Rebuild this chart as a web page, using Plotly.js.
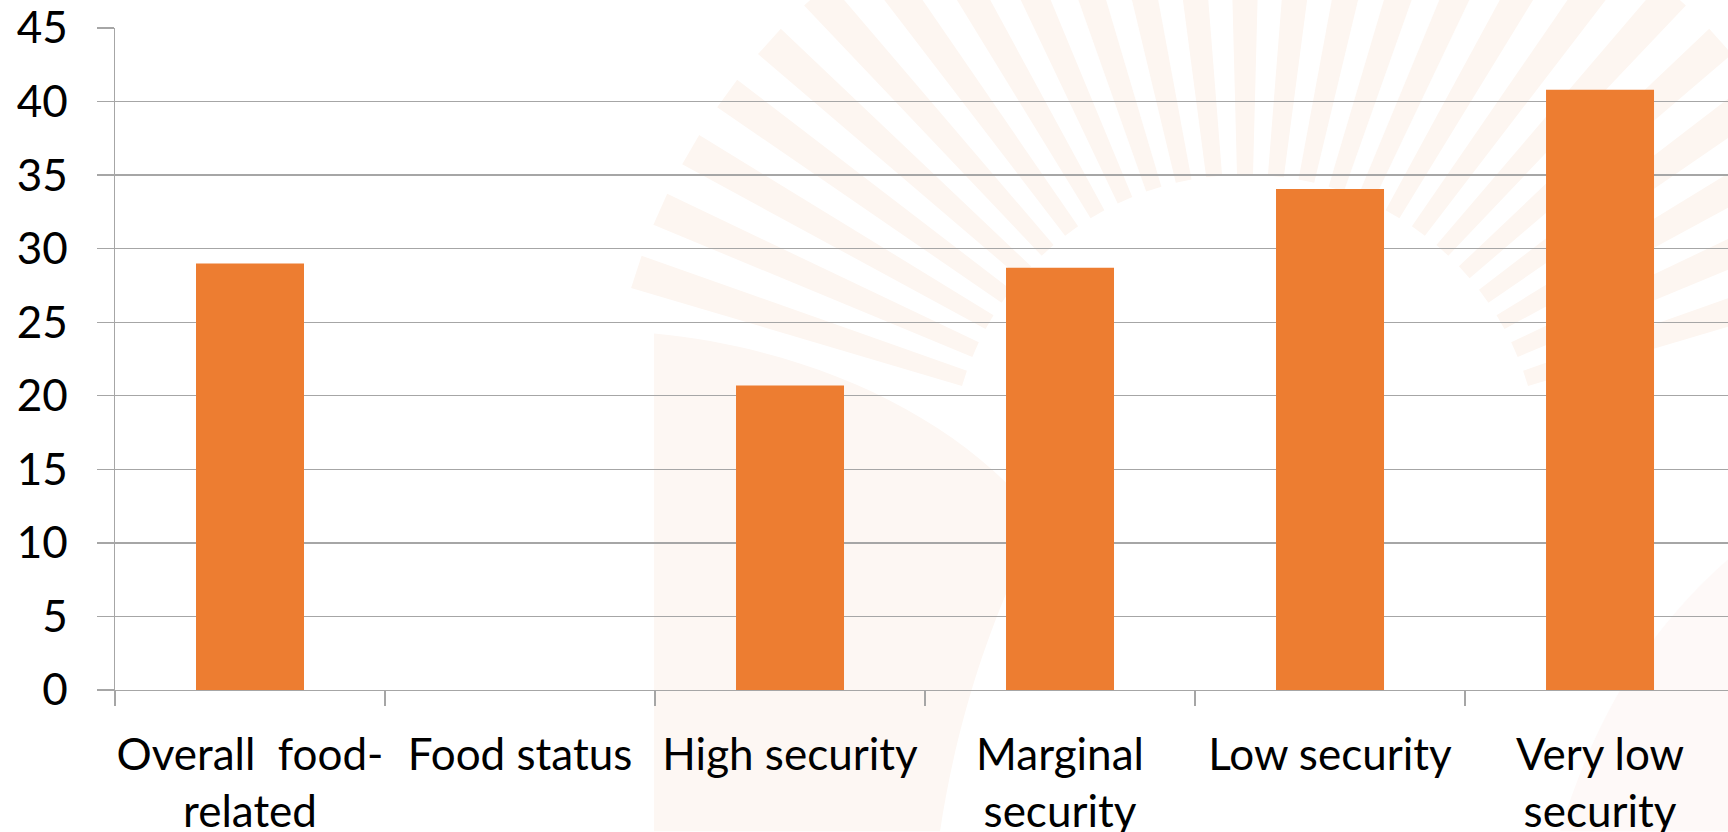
<!DOCTYPE html>
<html>
<head>
<meta charset="utf-8">
<script src="https://cdn.plot.ly/plotly-3.0.1.min.js"></script>
<style>
html,body{margin:0;padding:0;background:#fff;}
#chart{width:1728px;height:832px;}
</style>
</head>
<body>
<div id="chart"></div>
<script>
const categories = [
  "Overall  food-<br>related",
  "Food status",
  "High security",
  "Marginal<br>security",
  "Low security",
  "Very low<br>security"
];
const values = [29.0, null, 20.7, 28.7, 34.05, 40.8];
const yTicks = [0, 5, 10, 15, 20, 25, 30, 35, 40, 45];

const FONT = "Lato, 'Noto Sans', sans-serif";
const GRID = "#a6a6a6";

// faint decorative sunburst watermark (background only)
function watermark() {
  const cx = 1245, cy = 470, r1 = 295, r2 = 640;
  let parts = [];
  for (let a = 18; a <= 162.1; a += 6) {
    const t = a * Math.PI / 180;
    const ux = Math.cos(t), uy = -Math.sin(t);
    const px = -uy, py = ux;
    const w1 = 8, w2 = 17;
    const p = [
      [cx + ux * r1 + px * w1, cy + uy * r1 + py * w1],
      [cx + ux * r2 + px * w2, cy + uy * r2 + py * w2],
      [cx + ux * r2 - px * w2, cy + uy * r2 - py * w2],
      [cx + ux * r1 - px * w1, cy + uy * r1 - py * w1]
    ];
    parts.push('<polygon points="' + p.map(q => q[0].toFixed(1) + ',' + q[1].toFixed(1)).join(' ') + '"/>');
  }
  const body = '<path d="M654,334 C820,350 960,420 1040,520 C1000,600 960,700 940,832 L654,832 Z" fill="#fdf7f3"/>' +
               '<path d="M1560,832 C1600,700 1660,620 1728,560 L1728,832 Z" fill="#fef9f8"/>';
  const svg = '<svg xmlns="http://www.w3.org/2000/svg" width="1728" height="832" viewBox="0 0 1728 832">' +
    body + '<g fill="#fdf6f1">' + parts.join('') + '</g></svg>';
  return 'data:image/svg+xml;charset=utf-8,' + encodeURIComponent(svg);
}

const trace = {
  type: "bar",
  x: categories,
  y: values,
  width: 0.4,
  marker: {color: "#ED7D31", line: {width: 0}},
  hoverinfo: "skip"
};

const layout = {
  width: 1728,
  height: 832,
  margin: {l: 115, r: 0, t: 28.3, b: 141.5, pad: 0},
  paper_bgcolor: "#ffffff",
  plot_bgcolor: "rgba(0,0,0,0)",
  showlegend: false,
  bargap: 0.6,
  font: {family: FONT, size: 44, color: "#000000"},
  images: [{
    source: watermark(),
    xref: "paper", yref: "paper",
    x: -115 / 1613, y: 1 + 28.3 / 662.2,
    sizex: 1728 / 1613, sizey: 832 / 662.2,
    xanchor: "left", yanchor: "top",
    sizing: "stretch", layer: "below"
  }],
  xaxis: {
    type: "category",
    range: [-0.5, 5.474],
    tickson: "boundaries",
    ticks: "outside",
    ticklen: 15,
    tickwidth: 1.3,
    tickcolor: GRID,
    showline: true,
    linecolor: GRID,
    linewidth: 1.3,
    showgrid: false,
    tickangle: 0,
    tickfont: {family: FONT, size: 44, color: "#000"},
    ticklabelstandoff: 26,
    fixedrange: true
  },
  yaxis: {
    range: [0, 45],
    tickvals: yTicks,
    ticktext: yTicks.map(String),
    ticks: "outside",
    ticklen: 17,
    tickwidth: 1.3,
    tickcolor: GRID,
    showgrid: true,
    gridcolor: GRID,
    gridwidth: 1.3,
    zeroline: false,
    showline: true,
    linecolor: GRID,
    linewidth: 1.3,
    tickfont: {family: FONT, size: 44, color: "#000"},
    ticklabelstandoff: 20,
    fixedrange: true
  }
};

Plotly.newPlot("chart", [trace], layout, {displayModeBar: false, staticPlot: true});
</script>
</body>
</html>
